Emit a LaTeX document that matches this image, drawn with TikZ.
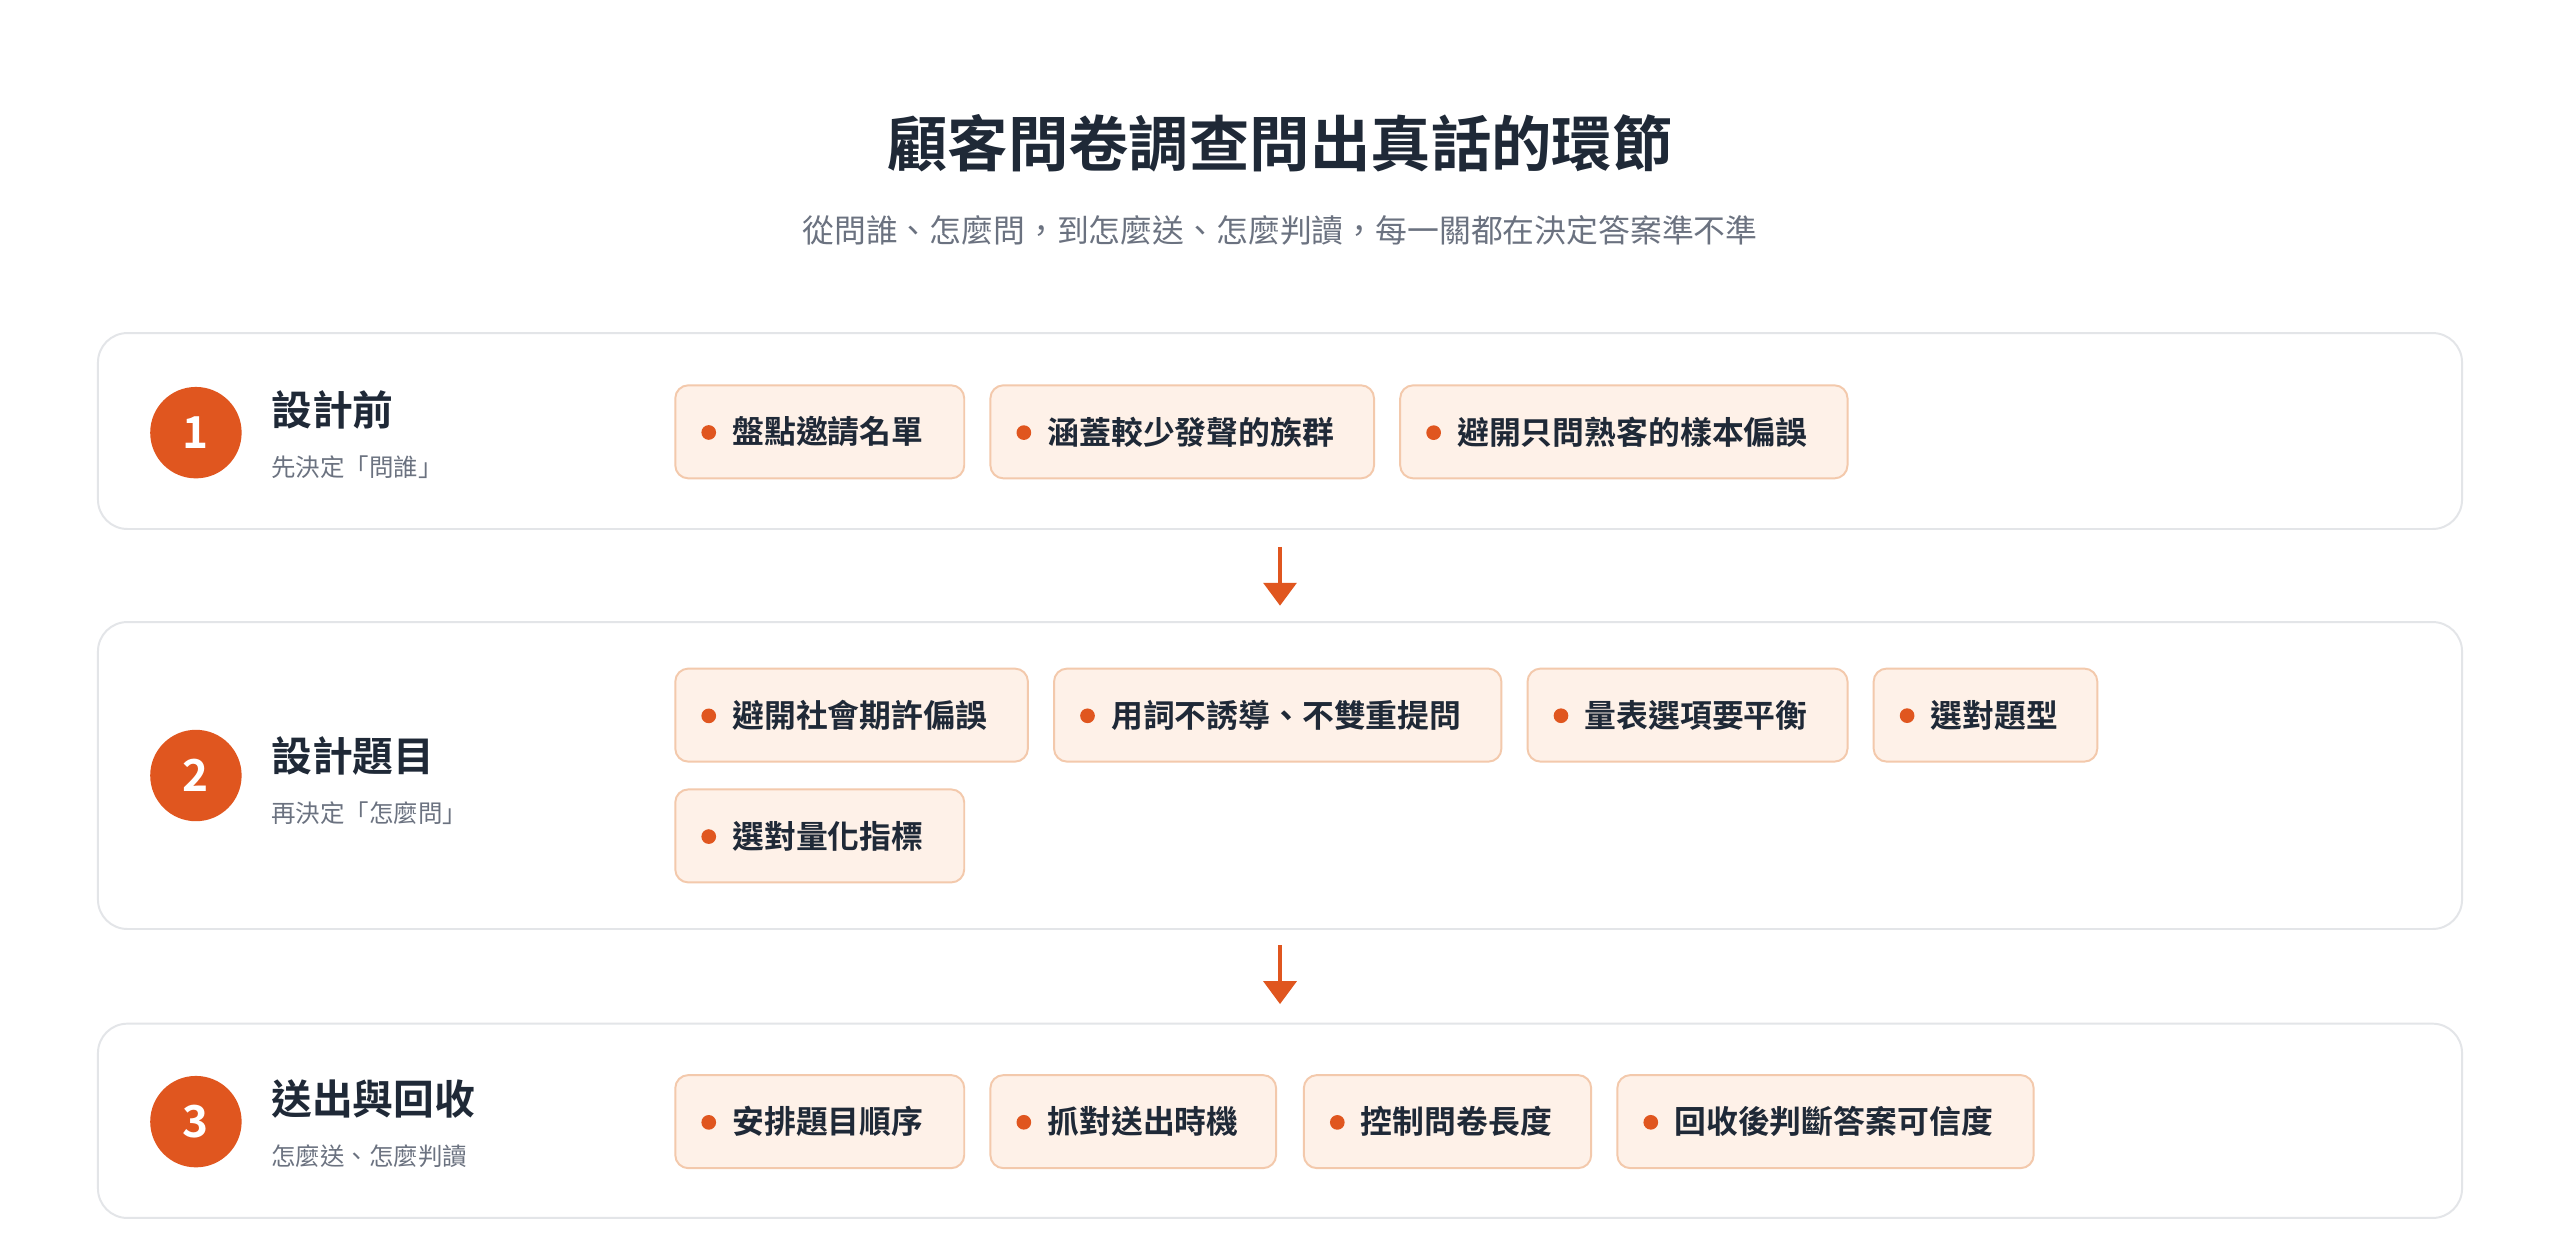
\documentclass[tikz,border=0pt]{standalone}
\usepackage{fontspec}
\setmainfont{Noto Sans CJK TC}[BoldFont={Noto Sans CJK TC Bold}]
\usetikzlibrary{arrows.meta}
\definecolor{accent}{HTML}{E0561F}
\definecolor{ink}{HTML}{1F2937}
\definecolor{gray1}{HTML}{6B7280}
\definecolor{chipfill}{HTML}{FEF1E8}
\definecolor{chipline}{HTML}{F3C9AC}
\definecolor{panelline}{HTML}{E3E5E8}
\tikzset{
 panel/.style={draw=panelline,line width=1.2pt,rounded corners=18pt,fill=white},
 num/.style={circle,fill=accent,minimum size=56pt,inner sep=0pt,text=white,font=\fontsize{27}{27}\selectfont\bfseries},
 head/.style={anchor=west,text=ink,font=\fontsize{25}{25}\selectfont\bfseries,inner sep=0pt},
 sub/.style={anchor=west,text=gray1,font=\fontsize{15}{15}\selectfont,inner sep=0pt},
 chip/.style={anchor=west,draw=chipline,fill=chipfill,line width=1.2pt,rounded corners=8pt,minimum height=57pt,inner xsep=16pt,text width=#1-32pt,align=left,text=ink,font=\fontsize{19.5}{19.5}\selectfont\bfseries},
 flow/.style={draw=accent,line width=2.6pt,-{Triangle[width=20pt,length=14pt]}},
}
\newcommand{\dotc}{\tikz[baseline=-7pt]\fill[accent] (0,0) circle (4.5pt);\hspace{10pt}}
\begin{document}
\begin{tikzpicture}[x=1pt,y=-1pt]
\useasboundingbox[fill=white] (0,0) rectangle (1568,762);
\node[text=ink,font=\fontsize{37}{37}\selectfont\bfseries] (title) at (784,88) {顧客問卷調查問出真話的環節};
\node[text=gray1,font=\fontsize{19.5}{19.5}\selectfont] (subtitle) at (784,141) {從問誰、怎麼問，到怎麼送、怎麼判讀，每一關都在決定答案準不準};
% panels
\draw[panel] (60,204) rectangle (1508,324);
\draw[panel] (60,381) rectangle (1508,569);
\draw[panel] (60,627) rectangle (1508,746);
\coordinate (a1s) at (784,335); \coordinate (a1e) at (784,371);
\coordinate (a2s) at (784,579); \coordinate (a2e) at (784,615);
\draw[flow] (a1s) -- (a1e);
\draw[flow] (a2s) -- (a2e);
% stage 1
\node[num] (n1) at (120,265) {1};
\node[head] (h1) at (166,251) {設計前};
\node[sub] (s1) at (166,286) {先決定「問誰」};
\node[chip=177pt] (c11) at (413,264.5) {\dotc 盤點邀請名單};
\node[chip=235pt] (c12) at (606,264.5) {\dotc 涵蓋較少發聲的族群};
\node[chip=274pt] (c13) at (857,264.5) {\dotc 避開只問熟客的樣本偏誤};
% stage 2
\node[num] (n2) at (120,475) {2};
\node[head] (h2) at (166,463) {設計題目};
\node[sub] (s2) at (166,498) {再決定「怎麼問」};
\node[chip=216pt] (c21) at (413,438) {\dotc 避開社會期許偏誤};
\node[chip=274pt] (c22) at (645,438) {\dotc 用詞不誘導、不雙重提問};
\node[chip=196pt] (c23) at (935,438) {\dotc 量表選項要平衡};
\node[chip=137pt] (c24) at (1147,438) {\dotc 選對題型};
\node[chip=177pt] (c25) at (413,512) {\dotc 選對量化指標};
% stage 3
\node[num] (n3) at (120,687) {3};
\node[head] (h3) at (166,673) {送出與回收};
\node[sub] (s3) at (166,708) {怎麼送、怎麼判讀};
\node[chip=177pt] (c31) at (413,687) {\dotc 安排題目順序};
\node[chip=175pt] (c32) at (606,687) {\dotc 抓對送出時機};
\node[chip=176pt] (c33) at (798,687) {\dotc 控制問卷長度};
\node[chip=255pt] (c34) at (990,687) {\dotc 回收後判斷答案可信度};
\end{tikzpicture}
\end{document}
